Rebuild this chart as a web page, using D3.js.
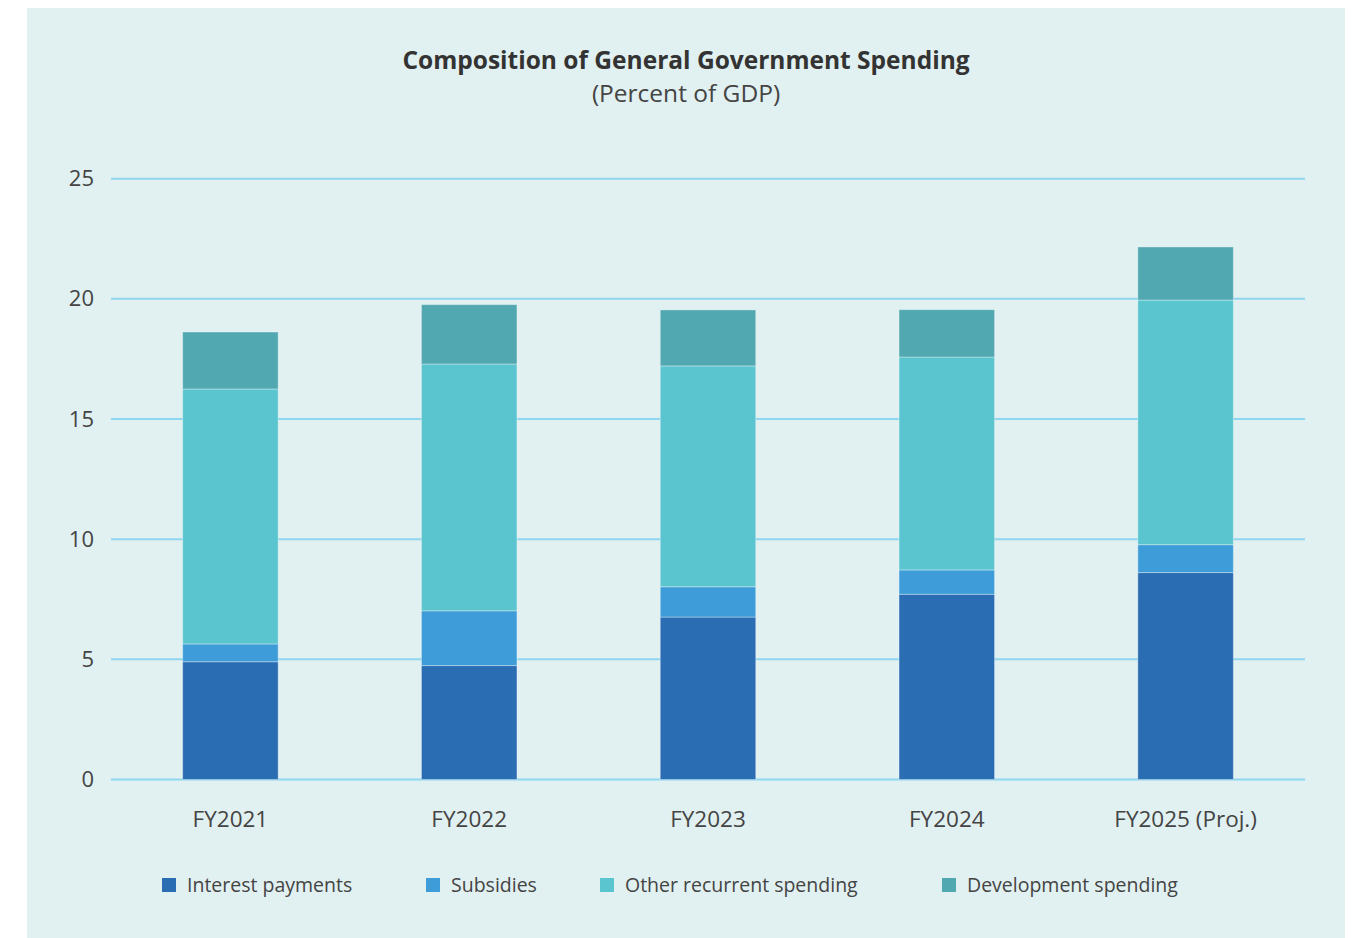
<!DOCTYPE html>
<html>
<head>
<meta charset="utf-8">
<script src="https://cdn.jsdelivr.net/npm/d3@7"></script>
<style>
  html, body { margin: 0; padding: 0; background: #ffffff; }
  svg { display: block; font-family: "Open Sans", Lato, sans-serif; }
</style>
</head>
<body>
<svg id="chart" width="1354" height="938"></svg>
<script>
// Fiscal years shown on the x axis
const categories = ["FY2021", "FY2022", "FY2023", "FY2024", "FY2025 (Proj.)"];

// Spending components, percent of GDP
const interestPayments    = [4.90, 4.74, 6.76, 7.71, 8.61];
const subsidies           = [0.74, 2.28, 1.26, 1.01, 1.16];
const otherRecurrent      = [10.61, 10.27, 9.19, 8.86, 10.18];
const developmentSpending = [2.37, 2.47, 2.33, 1.97, 2.21];

const seriesNames = ["Interest payments", "Subsidies", "Other recurrent spending", "Development spending"];
const seriesColors = ["#2a6db2", "#3e9dd8", "#5bc5cf", "#51a8b1"];
const yTicks = [0, 5, 10, 15, 20, 25];

const svg = d3.select("#chart");
const FONT = "'Open Sans', Lato, sans-serif";

// Panel background
svg.append("rect")
  .attr("x", 27).attr("y", 8)
  .attr("width", 1318).attr("height", 930)
  .attr("fill", "#e1f0f0");

// Title block
svg.append("text")
  .attr("x", 686).attr("y", 69)
  .attr("text-anchor", "middle")
  .attr("font-size", 24.5).attr("font-weight", 700)
  .attr("fill", "#333333")
  .text("Composition of General Government Spending");
svg.append("text")
  .attr("x", 686).attr("y", 102)
  .attr("text-anchor", "middle")
  .attr("font-size", 24.5)
  .attr("fill", "#444444")
  .text("(Percent of GDP)");

const plot = { left: 111, right: 1305, top: 178.7, bottom: 779.5 };

const x = d3.scaleBand()
  .domain(categories)
  .range([plot.left, plot.right])
  .paddingInner(0.6)
  .paddingOuter(0.3);

const y = d3.scaleLinear()
  .domain([0, 25])
  .range([plot.bottom, plot.top]);

// Gridlines
svg.append("g")
  .selectAll("line")
  .data(yTicks)
  .join("line")
  .attr("x1", plot.left).attr("x2", plot.right)
  .attr("y1", d => y(d)).attr("y2", d => y(d))
  .attr("stroke", "#8fd6f0")
  .attr("stroke-width", 2);

// Y axis labels
const yAxis = d3.axisLeft(y).tickValues(yTicks).tickSize(0).tickPadding(0);
const yg = svg.append("g")
  .attr("transform", `translate(${94},0)`)
  .call(yAxis);
yg.select(".domain").remove();
yg.selectAll("text")
  .attr("font-size", 22)
  .attr("fill", "#444444")
  .attr("font-family", FONT);

// Stacked bars
const rows = categories.map((c, i) => ({
  category: c,
  "Interest payments": interestPayments[i],
  "Subsidies": subsidies[i],
  "Other recurrent spending": otherRecurrent[i],
  "Development spending": developmentSpending[i]
}));
const stacked = d3.stack().keys(seriesNames)(rows);

svg.append("g")
  .selectAll("g")
  .data(stacked)
  .join("g")
  .attr("fill", (d, i) => seriesColors[i])
  .selectAll("rect")
  .data(d => d)
  .join("rect")
  .attr("x", d => x(d.data.category))
  .attr("width", x.bandwidth())
  .attr("y", d => y(d[1]))
  .attr("height", d => y(d[0]) - y(d[1]))
  .attr("stroke", "rgba(255,255,255,0.35)")
  .attr("stroke-width", 1);

// X axis labels
const xAxis = d3.axisBottom(x).tickSize(0).tickPadding(0);
const xg = svg.append("g")
  .attr("transform", `translate(0,${811})`)
  .call(xAxis);
xg.select(".domain").remove();
xg.selectAll("text")
  .attr("font-size", 22.5)
  .attr("fill", "#444444")
  .attr("font-family", FONT);

// Legend
const legendX = [162, 426, 600, 942];
const legend = svg.append("g")
  .selectAll("g")
  .data(seriesNames)
  .join("g")
  .attr("transform", (d, i) => `translate(${legendX[i]},${878})`);
legend.append("rect")
  .attr("width", 14).attr("height", 14)
  .attr("fill", (d, i) => seriesColors[i]);
legend.append("text")
  .attr("x", 25).attr("y", 14)
  .attr("font-size", 19.5)
  .attr("fill", "#444444")
  .text(d => d);
</script>
</body>
</html>
